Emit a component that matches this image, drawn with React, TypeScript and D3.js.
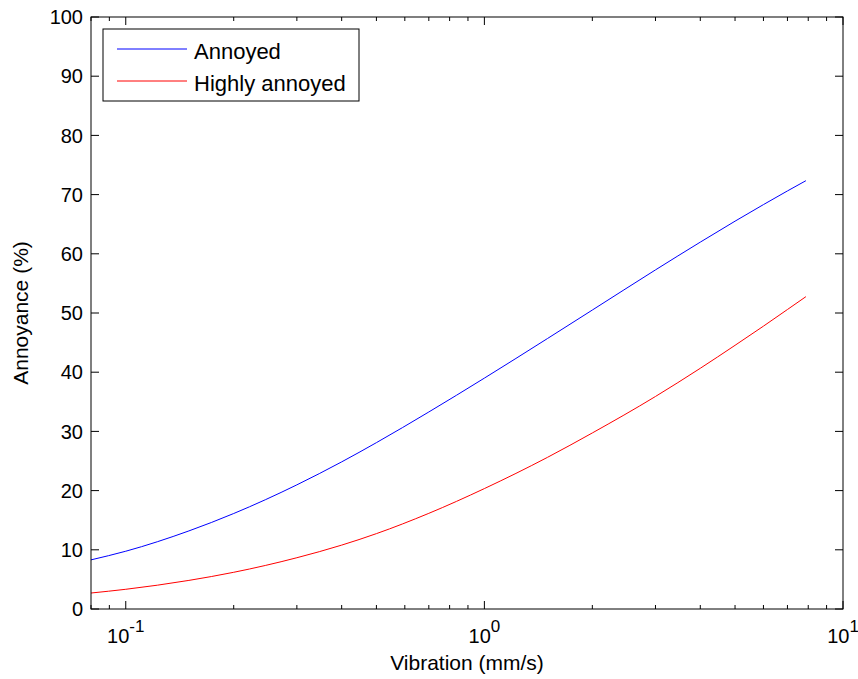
import React from "react";
import * as d3 from "d3";

const xAnnoyed = [0.08, 0.1, 0.15, 0.2, 0.3, 0.4, 0.5, 0.7, 1, 1.5, 2, 3, 4, 5, 6, 7, 7.88];
const yAnnoyed = [8.3, 9.76, 13.19, 16.13, 20.97, 24.85, 28.1, 33.28, 39.0, 45.69, 50.5, 57.28, 61.97, 65.51, 68.31, 70.62, 72.35];
const xHighly = [0.08, 0.1, 0.15, 0.2, 0.3, 0.4, 0.5, 0.7, 1, 1.5, 2, 3, 4, 5, 6, 7, 7.88];
const yHighly = [2.7, 3.33, 4.83, 6.2, 8.66, 10.79, 12.73, 16.16, 20.34, 25.62, 29.74, 35.9, 40.66, 44.54, 47.78, 50.59, 52.76];
const seriesNames = ["Annoyed", "Highly annoyed"];
const seriesColors = ["#0000ff", "#ff0000"];
const yTicks = [0, 10, 20, 30, 40, 50, 60, 70, 80, 90, 100];
const xMajor = [0.1, 1, 10];
const xMinor = [0.08, 0.09, 0.2, 0.3, 0.4, 0.5, 0.6, 0.7, 0.8, 0.9, 2, 3, 4, 5, 6, 7, 8, 9];
const xMajorExp = ["-1", "0", "1"];

const W = 858, H = 679;
const L = 91, R = 843, T = 17, B = 609;
const FONT = "'Liberation Sans', Arial, Helvetica, sans-serif";

export default function App() {
  const x = d3.scaleLog().domain([0.08, 10]).range([L, R]);
  const y = d3.scaleLinear().domain([0, 100]).range([B, T]);
  const line = d3.line<[number, number]>().x(d => x(d[0])).y(d => y(d[1])).curve(d3.curveMonotoneX);
  const series = [
    xAnnoyed.map((v, i) => [v, yAnnoyed[i]] as [number, number]),
    xHighly.map((v, i) => [v, yHighly[i]] as [number, number]),
  ];
  const majLen = 8, minLen = 4;
  return (
    <svg width={W} height={H} style={{ position: "absolute", left: 0, top: 0, background: "#fff" }} fontFamily={FONT}>
      <rect x={0} y={0} width={W} height={H} fill="#fff" />
      {series.map((s, i) => (
        <path key={i} d={line(s) || ""} fill="none" stroke={seriesColors[i]} strokeWidth={1} />
      ))}
      {yTicks.map(t => (
        <g key={"y" + t}>
          <line x1={L} x2={L + majLen} y1={y(t)} y2={y(t)} stroke="#000" />
          <line x1={R} x2={R - majLen} y1={y(t)} y2={y(t)} stroke="#000" />
          <text x={L - 8} y={y(t)} dy="0.36em" textAnchor="end" fontSize={20}>{t}</text>
        </g>
      ))}
      {xMajor.map((t, i) => (
        <g key={"xm" + t}>
          <line x1={x(t)} x2={x(t)} y1={B} y2={B - majLen} stroke="#000" />
          <line x1={x(t)} x2={x(t)} y1={T} y2={T + majLen} stroke="#000" />
          <text x={x(t)} y={643} textAnchor="middle" fontSize={20}>
            10<tspan fontSize={17} dy={-11}>{xMajorExp[i]}</tspan>
          </text>
        </g>
      ))}
      {xMinor.map(t => (
        <g key={"xn" + t}>
          <line x1={x(t)} x2={x(t)} y1={B} y2={B - minLen} stroke="#000" />
          <line x1={x(t)} x2={x(t)} y1={T} y2={T + minLen} stroke="#000" />
        </g>
      ))}
      <rect x={L} y={T} width={R - L} height={B - T} fill="none" stroke="#000" strokeWidth={1} />
      <rect x={103} y={29} width={256} height={72} fill="#fff" stroke="#000" strokeWidth={1} />
      {seriesNames.map((n, i) => (
        <g key={n}>
          <line x1={117} x2={187} y1={49 + i * 32} y2={49 + i * 32} stroke={seriesColors[i]} strokeWidth={1} />
          <text x={194} y={49 + i * 32 + 10} fontSize={22}>{n}</text>
        </g>
      ))}
      <text x={(L + R) / 2} y={670} textAnchor="middle" fontSize={21}>Vibration (mm/s)</text>
      <text transform={`translate(28, ${(T + B) / 2}) rotate(-90)`} textAnchor="middle" fontSize={21}>Annoyance (%)</text>
    </svg>
  );
}
